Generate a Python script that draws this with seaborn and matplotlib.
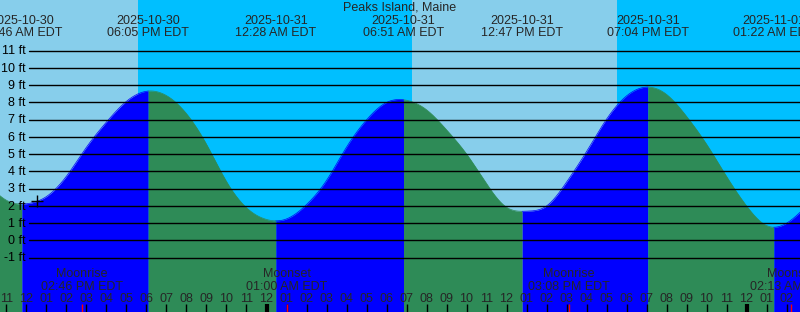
import numpy as np
import pandas as pd
import matplotlib
matplotlib.use("Agg")
import matplotlib.pyplot as plt
import matplotlib.transforms as mtransforms
import seaborn as sns

# ---------------- data ----------------
title = "Peaks Island, Maine"
base_day = pd.Timestamp("2025-10-30 00:00")

# tide curve, one value per hour (hours after 2025-10-30 00:00 EDT)
curve_hours = list(range(10, 52))
curve_ft = [3.35, 2.33, 2.13, 2.55, 3.73, 5.41, 6.87, 8.07, 8.65, 8.40,
            7.35, 5.58, 3.42, 1.90, 1.22, 1.25, 2.08, 3.48, 5.41, 6.99,
            8.00, 8.13, 7.58, 6.42, 5.02, 3.30, 1.93, 1.70, 2.00, 3.38,
            5.15, 7.03, 8.38, 8.89, 8.47, 7.20, 5.59, 3.72, 2.01, 0.87,
            1.00, 2.00]

# high / low tide events
tide_date = ["2025-10-30", "2025-10-30", "2025-10-31", "2025-10-31",
             "2025-10-31", "2025-10-31", "2025-11-01"]
tide_time = ["11:46 AM", "06:05 PM", "12:28 AM", "06:51 AM",
             "12:47 PM", "07:04 PM", "01:22 AM"]
tide_kind = ["low", "high", "low", "high", "low", "high", "low"]
tide_ft = [2.12, 8.66, 1.13, 8.15, 1.67, 8.90, 0.80]

# moon events
moon_kind = ["Moonrise", "Moonset", "Moonrise", "Moonset"]
moon_date = ["2025-10-30", "2025-10-31", "2025-10-31", "2025-11-01"]
moon_time = ["02:46 PM", "01:00 AM", "03:08 PM", "02:13 AM"]

# day / night boundaries (sky shading)
sun_kind = ["sunset", "sunrise", "sunset"]
sun_stamp = ["2025-10-30 05:34 PM", "2025-10-31 07:16 AM", "2025-10-31 05:31 PM"]

# "+" mark on the chart
mark_stamp = "2025-10-30 12:33 PM"
mark_ft = 2.29

# y grid levels (ft)
levels_ft = list(range(-1, 12))

# view window
view_start = "2025-10-30 10:40:30 AM"
view_hours = 40.0
y_bottom, y_top = -4.145, 13.94

# ---------------- style ----------------
sns.set_theme(style="white")
plt.rcParams["font.family"] = ["Liberation Sans", "DejaVu Sans"]
plt.rcParams["font.size"] = 9

DAY = "#87CEEB"
NIGHT = "#00BFFF"
RISE = "#0000FF"
FALL = "#2E8B57"


def hours_since(stamp):
    return (pd.Timestamp(stamp) - base_day).total_seconds() / 3600.0


def natural_spline(x, y, xq):
    x = np.asarray(x, float)
    y = np.asarray(y, float)
    n = len(x)
    h = np.diff(x)
    A = np.zeros((n, n))
    r = np.zeros(n)
    A[0, 0] = 1.0
    A[-1, -1] = 1.0
    for i in range(1, n - 1):
        A[i, i - 1] = h[i - 1]
        A[i, i] = 2 * (h[i - 1] + h[i])
        A[i, i + 1] = h[i]
        r[i] = 3 * ((y[i + 1] - y[i]) / h[i] - (y[i] - y[i - 1]) / h[i - 1])
    c = np.linalg.solve(A, r)
    b = (y[1:] - y[:-1]) / h - h * (2 * c[:-1] + c[1:]) / 3
    d = (c[1:] - c[:-1]) / (3 * h)
    idx = np.clip(np.searchsorted(x, xq, side="right") - 1, 0, n - 2)
    dx = xq - x[idx]
    return y[idx] + b[idx] * dx + c[idx] * dx**2 + d[idx] * dx**3


tide_t = [hours_since(f"{d} {t}") for d, t in zip(tide_date, tide_time)]
moon_t = [hours_since(f"{d} {t}") for d, t in zip(moon_date, moon_time)]
sun_t = [hours_since(s) for s in sun_stamp]
t0 = hours_since(view_start)
t1 = t0 + view_hours

tt = np.union1d(np.linspace(curve_hours[0], curve_hours[-1], 4101), tide_t)
hh = natural_spline(curve_hours, curve_ft, tt)

# ---------------- figure ----------------
fig = plt.figure(figsize=(8, 3.12), dpi=100)
ax = fig.add_axes([0, 0, 1, 1])
W, H = 800.0, 312.0

# sky
bounds = [t0] + sun_t + [t1]
for i in range(len(bounds) - 1):
    ax.axvspan(bounds[i], bounds[i + 1], color=DAY if i % 2 == 0 else NIGHT,
               lw=0, zorder=0)

# water, rising blue / falling green
seg_bounds = [tt[0]] + tide_t + [tt[-1]]
rows = []
for i in range(len(seg_bounds) - 1):
    a, b = seg_bounds[i], seg_bounds[i + 1]
    m = (tt >= a) & (tt <= b)
    rising = tide_kind[i] == "high" if i < len(tide_kind) else tide_kind[-1] == "low"
    col = RISE if rising else FALL
    ax.fill_between(tt[m], hh[m], y_bottom - 1, color=col, lw=0, zorder=1)
    rows.append(pd.DataFrame({"t": tt[m], "h": hh[m],
                              "phase": "rising" if rising else "falling",
                              "seg": i}))
curve_df = pd.concat(rows, ignore_index=True)
sns.lineplot(data=curve_df, x="t", y="h", hue="phase", units="seg",
             estimator=None, palette={"rising": RISE, "falling": FALL},
             legend=False, lw=0.5, ax=ax, zorder=1.5)

# grid lines
for v in levels_ft:
    ax.axhline(v, xmin=29 / W, xmax=1, color="black", lw=1.0, zorder=2)

# y labels
ylab_tr = mtransforms.offset_copy(
    mtransforms.blended_transform_factory(ax.transAxes, ax.transData),
    fig=fig, x=0, y=-3.7, units="dots")
for v in levels_ft:
    ax.text(26 / W, v, f"{v} ft", transform=ylab_tr, ha="right",
            va="baseline", color="black", zorder=4)

# text helpers: x in data, y in pixels from top
xtr = mtransforms.blended_transform_factory(ax.transData, ax.transAxes)


def ytop(px):
    return 1 - px / H


ax.text(0.5, ytop(11), title, transform=ax.transAxes, ha="center",
        va="baseline", zorder=4)
for t, d, tm in zip(tide_t, tide_date, tide_time):
    ax.text(t, ytop(24), d, transform=xtr, ha="center", va="baseline", zorder=4)
    ax.text(t, ytop(36), f"{tm} EDT", transform=xtr, ha="center",
            va="baseline", zorder=4)
for t, k, tm in zip(moon_t, moon_kind, moon_time):
    ax.text(t, ytop(277.3), k, transform=xtr, ha="center", va="baseline", zorder=4)
    ax.text(t, ytop(290), f"{tm} EDT", transform=xtr, ha="center",
            va="baseline", zorder=4)

# hour ticks and labels
hour_ticks = [h for h in range(int(np.ceil(t0)), int(np.floor(t1)) + 1)]
for h in hour_ticks:
    lab = "%02d" % (((h - 1) % 12) + 1)
    ax.text(h, ytop(302), lab, transform=xtr, ha="center", va="baseline", zorder=4)
    lw = 3.0 if h % 24 == 0 else 1.0
    ax.plot([h, h], [0, 8 / H], transform=xtr, color="black", lw=lw,
            solid_capstyle="butt", zorder=3)
for t in moon_t:
    ax.plot([t, t], [0, 8 / H], transform=xtr, color="#FF0000", lw=1.0,
            solid_capstyle="butt", zorder=3.5)

# "+" mark
ax.plot([hours_since(mark_stamp)], [mark_ft], marker="+", ms=9, mew=1.0,
        color="black", zorder=3)

ax.set_xlim(t0, t1)
ax.set_ylim(y_bottom, y_top)
ax.axis("off")
fig.savefig("out.png", dpi=100)
